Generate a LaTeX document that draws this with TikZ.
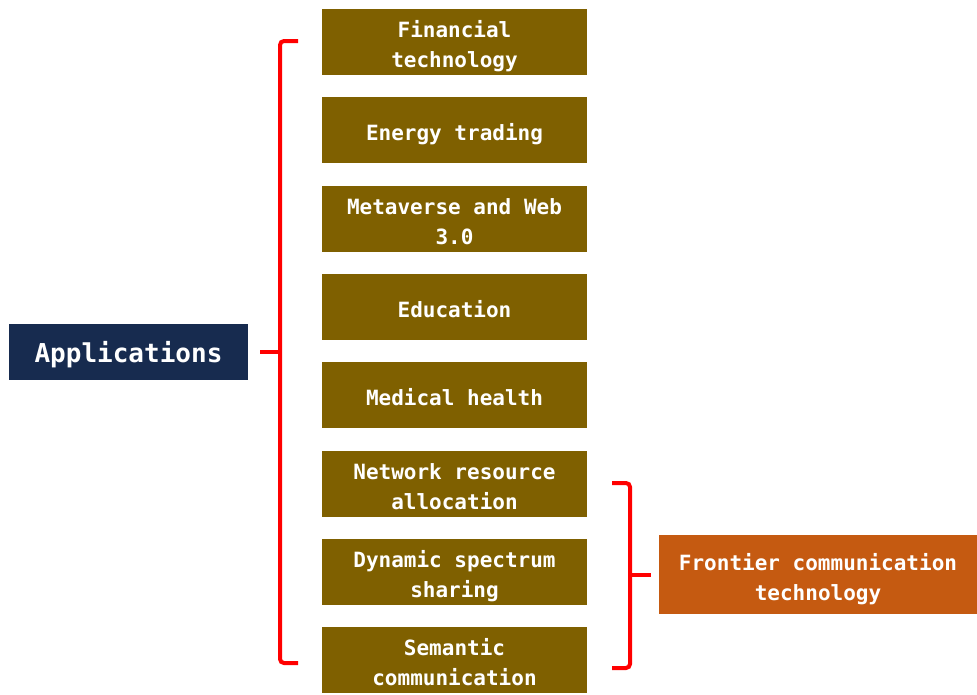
\documentclass[tikz,border=0pt]{standalone}
\usepackage{fontspec}
\setmainfont{DejaVu Sans Mono}
\definecolor{appnavy}{RGB}{23,43,79}
\definecolor{olive}{RGB}{127,96,0}
\definecolor{rust}{RGB}{197,90,17}
\definecolor{bracered}{RGB}{255,0,0}
\newcommand{\lowtext}[1]{\raisebox{-4.5pt}[\height][\depth]{\begin{tabular}{@{}c@{}}#1\end{tabular}}}
\begin{document}
\begin{tikzpicture}[x=1pt,y=-1pt,
  itembox/.style={fill=olive, text=white, minimum width=265pt, minimum height=66pt, inner sep=0pt, font=\fontsize{21}{30}\selectfont\bfseries},
  bigbox/.style={fill=appnavy, text=white, minimum width=239pt, minimum height=56pt, inner sep=0pt, font=\fontsize{26}{32}\selectfont\bfseries},
  techbox/.style={fill=rust, text=white, minimum width=318pt, minimum height=79pt, inner sep=0pt, font=\fontsize{21}{30}\selectfont\bfseries},
  brace/.style={draw=bracered, line width=4pt, rounded corners=4pt}
]
\useasboundingbox (0,0) rectangle (977,694);
\node[bigbox] (app) at (128.5,352) {\lowtext{Applications}};
\node[itembox] (n1) at (454.5,42) {\lowtext{Financial\\technology}};
\node[itembox] (n2) at (454.5,130) {\lowtext{Energy trading}};
\node[itembox] (n3) at (454.5,219) {\lowtext{Metaverse and Web\\3.0}};
\node[itembox] (n4) at (454.5,307) {\lowtext{Education}};
\node[itembox] (n5) at (454.5,395) {\lowtext{Medical health}};
\node[itembox] (n6) at (454.5,484) {\lowtext{Network resource\\allocation}};
\node[itembox] (n7) at (454.5,572) {\lowtext{Dynamic spectrum\\sharing}};
\node[itembox] (n8) at (454.5,660) {\lowtext{Semantic\\communication}};
\node[techbox] (fct) at (818,574.5) {\lowtext{Frontier communication\\technology}};
% left brace
\coordinate (lt) at (298,41);
\coordinate (lb) at (298,663);
\coordinate (ltip) at (260,352);
\draw[brace] (lt) -- (280,41) -- (280,663) -- (lb);
\draw[brace] (280,352) -- (ltip);
% right brace
\coordinate (rt) at (612,483);
\coordinate (rb) at (612,668);
\coordinate (rtip) at (651,575);
\draw[brace] (rt) -- (630,483) -- (630,668) -- (rb);
\draw[brace] (630,575) -- (rtip);
\end{tikzpicture}
\end{document}
